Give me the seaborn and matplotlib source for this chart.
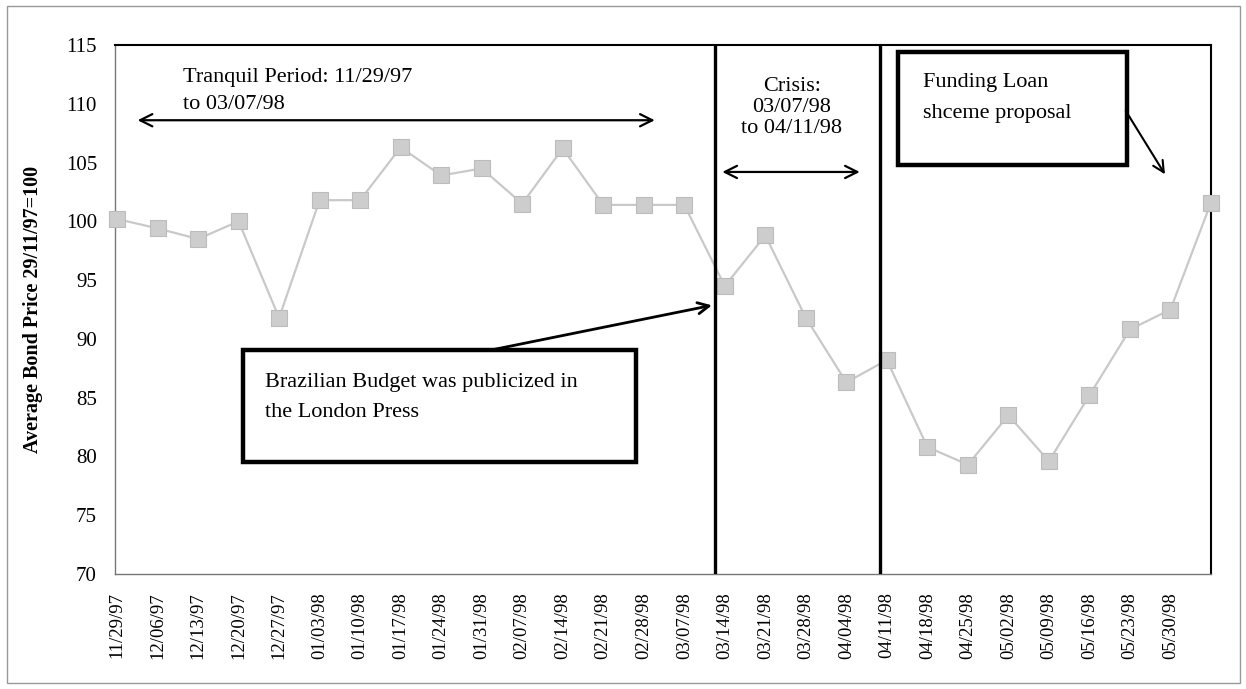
import matplotlib
matplotlib.use("Agg")
import matplotlib.pyplot as plt
import seaborn as sns
import numpy as np
import pandas as pd
from matplotlib.patches import Rectangle

# ---- data ----
date_labels = ["11/29/97", "12/06/97", "12/13/97", "12/20/97", "12/27/97",
               "01/03/98", "01/10/98", "01/17/98", "01/24/98", "01/31/98",
               "02/07/98", "02/14/98", "02/21/98", "02/28/98", "03/07/98",
               "03/14/98", "03/21/98", "03/28/98", "04/04/98", "04/11/98",
               "04/18/98", "04/25/98", "05/02/98", "05/09/98", "05/16/98",
               "05/23/98", "05/30/98"]
bond_price = [100.2, 99.4, 98.5, 100.0, 91.8, 101.8, 101.8, 106.3, 103.9, 104.5,
              101.5, 106.2, 101.4, 101.4, 101.4, 94.5, 98.8, 91.8, 86.3, 88.2,
              80.8, 79.3, 83.5, 79.6, 85.2, 90.8, 92.5, 101.6]
y_ticks = [70, 75, 80, 85, 90, 95, 100, 105, 110, 115]

df = pd.DataFrame({"idx": np.arange(len(bond_price)), "price": bond_price})

sns.set_theme(style="white")
plt.rcParams["font.family"] = ["Liberation Serif", "DejaVu Serif"]
plt.rcParams["text.color"] = "black"
plt.rcParams["xtick.color"] = "black"
plt.rcParams["ytick.color"] = "black"
plt.rcParams["axes.labelcolor"] = "black"

fig = plt.figure(figsize=(12.46, 6.89), dpi=100)
ax = fig.add_axes([115 / 1246, 1 - 574 / 689, (1211 - 115) / 1246, (574 - 45) / 689])

sns.lineplot(data=df, x="idx", y="price", ax=ax, color="#c9c9c9", linewidth=1.6,
             marker="s", markersize=12, markerfacecolor="#cdcdcd",
             markeredgecolor="#bcbcbc", markeredgewidth=0.8, zorder=3,
             clip_on=False)

ax.set_xlim(-0.05, 27.0)
ax.set_ylim(70, 115)
ax.set_yticks(y_ticks)
ax.set_yticklabels([str(v) for v in y_ticks], fontsize=15)
ax.set_xticks(np.arange(len(date_labels)))
ax.set_xticklabels(date_labels, rotation=90, fontsize=13.5)
ax.tick_params(axis="both", length=0)
ax.tick_params(axis="y", pad=13)
ax.tick_params(axis="x", pad=13)
ax.set_xlabel("")
ax.set_ylabel("Average Bond Price 29/11/97=100", fontsize=14.5, fontweight="bold",
              labelpad=16)

for side in ["top", "right"]:
    ax.spines[side].set_color("black")
    ax.spines[side].set_linewidth(1.5)
for side in ["left", "bottom"]:
    ax.spines[side].set_color("#777777")
    ax.spines[side].set_linewidth(1.0)

# vertical period separators
for xv in [14.75, 18.82]:
    ax.axvline(xv, color="black", linewidth=2.4, zorder=4)

fs = 16
# Tranquil period
ax.text(1.63, 112.2, "Tranquil Period: 11/29/97", fontsize=fs, va="center", ha="left")
ax.text(1.63, 109.9, "to 03/07/98", fontsize=fs, va="center", ha="left")
ax.annotate("", xy=(0.44, 108.6), xytext=(13.34, 108.6),
            arrowprops=dict(arrowstyle="<->", color="black", lw=1.6,
                            mutation_scale=22))

# Crisis
for yv, t in zip([111.5, 109.7, 107.9], ["Crisis:", "03/07/98", "to 04/11/98"]):
    ax.text(16.65, yv, t, fontsize=fs, va="center", ha="center")
ax.annotate("", xy=(14.87, 104.2), xytext=(18.4, 104.2),
            arrowprops=dict(arrowstyle="<->", color="black", lw=1.6,
                            mutation_scale=22))

# Funding loan box
ax.add_patch(Rectangle((19.28, 104.8), 24.93 - 19.28, 114.4 - 104.8,
                       facecolor="white", edgecolor="black", linewidth=3.2, zorder=5))
ax.text(19.88, 111.77, "Funding Loan", fontsize=fs, va="center", ha="left", zorder=6)
ax.text(19.88, 109.2, "shceme proposal", fontsize=fs, va="center", ha="left", zorder=6)
ax.annotate("", xy=(25.9, 103.8), xytext=(24.86, 109.6),
            arrowprops=dict(arrowstyle="->", color="black", lw=1.5,
                            mutation_scale=20), zorder=6)

# Brazilian budget box
ax.add_patch(Rectangle((3.1, 79.5), 12.82 - 3.1, 89.06 - 79.5,
                       facecolor="white", edgecolor="black", linewidth=3.2, zorder=5))
ax.text(3.65, 86.33, "Brazilian Budget was publicized in", fontsize=fs,
        va="center", ha="left", zorder=6)
ax.text(3.65, 83.7, "the London Press", fontsize=fs, va="center", ha="left", zorder=6)
ax.annotate("", xy=(14.75, 92.9), xytext=(9.24, 89.06),
            arrowprops=dict(arrowstyle="->", color="black", lw=2,
                            mutation_scale=20), zorder=6)

# outer chart border
fig.patches.append(Rectangle((7 / 1246, 1 - 683 / 689), (1240 - 7) / 1246,
                             (683 - 6) / 689, transform=fig.transFigure,
                             fill=False, edgecolor="#999999", linewidth=1.0))

fig.savefig("out.png", dpi=100)
